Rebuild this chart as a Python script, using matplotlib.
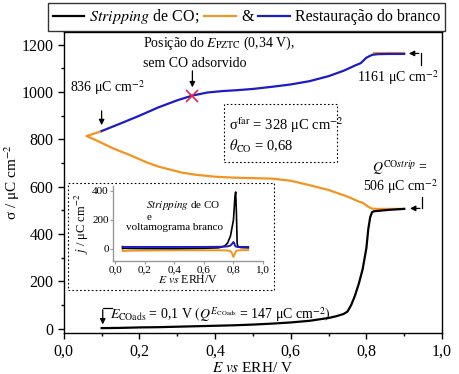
import matplotlib
matplotlib.use('Agg')
import matplotlib.pyplot as plt
from matplotlib.lines import Line2D
from matplotlib.patches import Rectangle
from matplotlib.ticker import MultipleLocator, FuncFormatter

plt.rcParams.update({
    'font.family': ['Liberation Serif', 'DejaVu Serif'],
    'mathtext.fontset': 'stix',
    'font.size': 11.5,
    'axes.linewidth': 1.0,
})

# CO stripping charge (black)
E_strip = [0.10, 0.15, 0.20, 0.25, 0.30, 0.35, 0.40, 0.45, 0.50, 0.55, 0.60, 0.65, 0.70, 0.72,
           0.74, 0.75, 0.76, 0.77, 0.78, 0.79, 0.80, 0.805, 0.81, 0.815, 0.82, 0.84, 0.86, 0.88, 0.90]
sig_strip = [2, 3, 5, 6, 8, 10, 12, 14, 17, 21, 26, 33, 45, 52,
             62, 72, 100, 140, 190, 250, 340, 420, 470, 492, 496, 499, 502, 504, 506]

# blank restoration (blue)
E_blank = [0.10, 0.15, 0.20, 0.25, 0.30, 0.34, 0.38, 0.42, 0.46, 0.50, 0.55, 0.60, 0.65,
           0.70, 0.74, 0.77, 0.785, 0.80, 0.815, 0.83, 0.86, 0.90]
sig_blank = [835, 867, 900, 935, 965, 985, 998, 1004, 1008, 1013, 1022, 1032, 1046,
             1067, 1090, 1112, 1122, 1145, 1157, 1160, 1161, 1161]

# orange: return sweep
E_orange = [0.90, 0.86, 0.83, 0.815, 0.805, 0.79, 0.78, 0.75, 0.70, 0.65, 0.60, 0.55, 0.50,
            0.45, 0.40, 0.35, 0.31, 0.25, 0.22, 0.18, 0.13, 0.10, 0.08, 0.06, 0.08, 0.10]
sig_orange = [506, 506, 506, 507, 515, 532, 537, 558, 586, 606, 625, 634, 636,
              638, 642, 650, 660, 685, 702, 730, 762, 785, 800, 814, 824, 835]
E_orange_top = [0.82, 0.90]
sig_orange_top = [1167, 1167]

E_pztc, sig_pztc = 0.34, 985

# inset voltammograms
E_in = [0.05, 0.10, 0.20, 0.30, 0.40, 0.50, 0.60, 0.70, 0.74, 0.76, 0.78, 0.79, 0.80, 0.805,
        0.81, 0.815, 0.82, 0.825, 0.83, 0.85, 0.90]
j_strip = [5, 4, 3, 3, 3, 4, 5, 8, 20, 40, 90, 145, 200, 280, 360, 393, 250, 40, 15, 10, 8]
j_blank = [14, 14, 14, 14, 14, 14, 14, 15, 16, 18, 24, 35, 48, 40, 25, 18, 16, 15, 14, 14, 14]
E_in_back = [0.90, 0.85, 0.82, 0.81, 0.80, 0.79, 0.78, 0.75, 0.70, 0.60, 0.50, 0.40, 0.30,
             0.20, 0.10, 0.05, 0.05]
j_back = [-8, -8, -12, -30, -55, -30, -14, -10, -9, -9, -9, -9, -10, -11, -12, -14, 18]

orange = '#F39420'
blue = '#1C1CC4'

fmt = FuncFormatter(lambda v, p: f'{v:.1f}'.replace('.', ','))

fig = plt.figure(figsize=(4.59, 3.74), dpi=100)
ax = fig.add_axes([0.139, 0.110, 0.824, 0.804])
ax.plot(E_strip, sig_strip, color='black', lw=1.6, zorder=3)
ax.plot(E_orange, sig_orange, color=orange, lw=1.6, zorder=2)
ax.plot(E_orange_top, sig_orange_top, color=orange, lw=1.6, zorder=2)
ax.plot(E_blank, sig_blank, color=blue, lw=1.6, zorder=3)
ax.plot([E_pztc], [sig_pztc], marker='x', color='#E8264A', ms=8, mew=1.2, zorder=4)

ax.set_xlim(0, 1.0)
ax.set_ylim(-18, 1253)
ax.xaxis.set_major_locator(MultipleLocator(0.2))
ax.xaxis.set_minor_locator(MultipleLocator(0.1))
ax.yaxis.set_major_locator(MultipleLocator(200))
ax.yaxis.set_minor_locator(MultipleLocator(100))
ax.xaxis.set_major_formatter(fmt)
ax.tick_params(which='major', direction='out', length=4, width=1, labelsize=11.5)
ax.tick_params(which='minor', direction='out', length=2.5, width=1)
ax.set_xlabel(r'$E$ $vs$ ERH/ V', fontsize=11)
ax.set_ylabel(r'σ / μC cm$^{-2}$', fontsize=11)
ax.xaxis.set_label_coords(0.5, -0.093)
ax.yaxis.set_label_coords(-0.111, 0.5)

# annotations
tfs = 10
ax.text(0.209, 1207, r'Posição do $E_{\rm PZTC}$ (0,34 V),', fontsize=tfs, va='center')
ax.text(0.209, 1122, 'sem CO adsorvido', fontsize=tfs, va='center')
ax.annotate('', xy=(0.34, 1008), xytext=(0.34, 1101),
            arrowprops=dict(arrowstyle='-|>', color='black', lw=0.9, mutation_scale=8))
ax.text(0.016, 1017, r'836 μC cm$^{-2}$', fontsize=tfs, va='center')
ax.annotate('', xy=(0.10, 848), xytext=(0.10, 932),
            arrowprops=dict(arrowstyle='-|>', color='black', lw=0.9, mutation_scale=8))
ax.text(0.775, 1059, r'1161 μC cm$^{-2}$', fontsize=tfs, va='center')
ax.plot([0.944, 0.944], [1114, 1163], color='black', lw=0.9)
ax.annotate('', xy=(0.905, 1163), xytext=(0.946, 1163),
            arrowprops=dict(arrowstyle='-|>', color='black', lw=0.9, mutation_scale=8))

ax.add_patch(Rectangle((0.423, 705), 0.299, 244, fill=False, ls=(0, (1.5, 2)), lw=0.8, ec='black'))
ax.text(0.437, 861, r'σ$^{\rm far}$ = 328 μC cm$^{-2}$', fontsize=10.5, va='center')
ax.text(0.437, 768, r'$\theta_{\rm CO}$ = 0,68', fontsize=10.5, va='center')

ax.text(0.815, 679, r'$Q^{{\rm CO}\mathit{strip}}$ =', fontsize=tfs, va='center')
ax.text(0.791, 599, r'506 μC cm$^{-2}$', fontsize=tfs, va='center')
ax.plot([0.947, 0.947], [557, 508], color='black', lw=0.9)
ax.annotate('', xy=(0.908, 508), xytext=(0.949, 508),
            arrowprops=dict(arrowstyle='-|>', color='black', lw=0.9, mutation_scale=8))

ax.text(0.122, 59, r'$E_{\rm COads}$ = 0,1 V $\left(Q^{E_{\rm COads}}\right.$ = 147 μC cm$^{-2}\left.\right)$',
        fontsize=tfs, va='center')
ax.plot([0.127, 0.103], [89, 89], color='black', lw=0.9)
ax.annotate('', xy=(0.103, 6), xytext=(0.103, 91),
            arrowprops=dict(arrowstyle='-|>', color='black', lw=0.9, mutation_scale=8))

# inset frame
fig.patches.append(Rectangle((0.148, 0.225), 0.449, 0.286, transform=fig.transFigure,
                             fill=True, fc='white', ls=(0, (1.5, 2)), lw=0.8, ec='black', zorder=5))

ins = fig.add_axes([0.2462, 0.3021, 0.3268, 0.2005], zorder=6)
ins.patch.set_alpha(0)
ins.plot(E_in_back, j_back, color=orange, lw=1.4)
ins.plot(E_in, j_strip, color='black', lw=1.2)
ins.plot(E_in, j_blank, color=blue, lw=1.4)
ins.set_xlim(-0.015, 1.0)
ins.set_ylim(-83, 434)
for s in ['top', 'right']:
    ins.spines[s].set_visible(False)
for s in ['left', 'bottom']:
    ins.spines[s].set_color('#999999')
ins.xaxis.set_major_locator(MultipleLocator(0.2))
ins.yaxis.set_major_locator(MultipleLocator(200))
ins.xaxis.set_major_formatter(fmt)
ins.tick_params(labelsize=8, length=2, color='#999999', pad=1)
ins.set_xlabel(r'$E$ $vs$ ERH/V', fontsize=8.5, labelpad=0)
ins.set_ylabel(r'$j$ / μC cm$^{-2}$', fontsize=9, labelpad=1)
ins.text(0.21, 300, r'$\mathit{Stripping}$ de CO', fontsize=8, va='center')
ins.text(0.21, 215, 'e', fontsize=8, va='center')
ins.text(0.07, 150, 'voltamograma branco', fontsize=8, va='center')

handles = [Line2D([], [], color='black', lw=1.6),
           Line2D([], [], color=orange, lw=1.6),
           Line2D([], [], color=blue, lw=1.6)]
labels = [r'$\mathit{Stripping}$ de CO;', '&', 'Restauração do branco']
leg = fig.legend(handles, labels, loc='center', bbox_to_anchor=(0.537, 0.955), ncol=3,
                 frameon=True, fancybox=False, edgecolor='black', fontsize=11.5,
                 handlelength=2.0, handletextpad=0.3, columnspacing=0.3, borderpad=0.3,
                 borderaxespad=0)
leg.get_frame().set_linewidth(1.0)

fig.savefig('out.png', dpi=100)
